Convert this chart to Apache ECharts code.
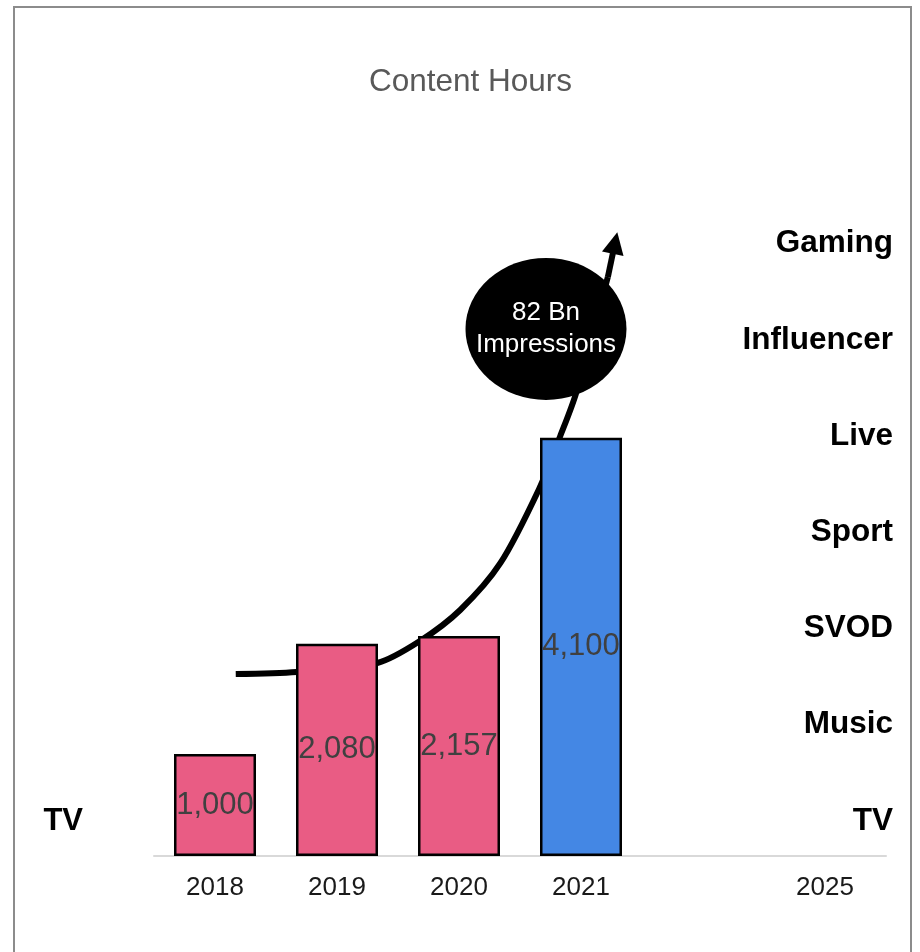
<!DOCTYPE html>
<html>
<head>
<meta charset="utf-8">
<title>Content Hours</title>
<script src="https://cdn.jsdelivr.net/npm/echarts@6/dist/echarts.min.js"></script>
<style>
  html, body { margin: 0; padding: 0; background: #ffffff; }
  #chart { width: 920px; height: 952px; }
</style>
</head>
<body>
<div id="chart"></div>
<script>
// Years on the horizontal axis (the blank slot keeps the gap before 2025)
const categories = ['2018', '2019', '2020', '2021', '', '2025'];
// Content hours per year
const contentHours = [1000, 2080, 2157, 4100, null, null];
// Content channels listed up the side
const channelLabels = ['TV', 'Music', 'SVOD', 'Sport', 'Live', 'Influencer', 'Gaming'];
const leftLabels = ['TV', '', '', '', '', '', ''];
// Growth curve, in [year slot, hours] units
const growthCurve = [
  [0.67, 1784], [1.17, 1804], [1.83, 1892], [2.18, 2108], [2.51, 2412],
  [2.84, 2873], [3.16, 3608], [3.33, 4118], [3.46, 4539], [3.72, 5676]
];
const growthArrowHead = [3.779, 6010];
// Impressions bubble
const impressions = { value: [3.213, 5167], text: '82 Bn\nImpressions' };

const PINK = '#E95C84';
const BLUE = '#4487E4';
const FONT = "'Liberation Sans', Arial, sans-serif";

const chart = echarts.init(document.getElementById('chart'), null, { renderer: 'canvas' });

const barData = contentHours.map((v, i) => v == null ? null : {
  value: v,
  itemStyle: { color: i === 3 ? BLUE : PINK }
});

chart.setOption({
  backgroundColor: '#ffffff',
  animation: false,
  title: {
    text: 'Content Hours',
    left: 364,
    top: 61,
    textStyle: { fontFamily: FONT, fontSize: 31.5, fontWeight: 'normal', color: '#595959' }
  },
  graphic: [{
    type: 'rect',
    silent: true,
    shape: { x: 14, y: 7, width: 897, height: 980 },
    style: { fill: 'none', stroke: '#8c8c8c', lineWidth: 2 }
  }],
  grid: [
    { left: 154, right: 34, top: 193, bottom: 96 },
    { left: 100, right: 40, top: 195.7, bottom: 82.9 }
  ],
  xAxis: [
    {
      type: 'category', gridIndex: 0, data: categories,
      axisLine: { lineStyle: { color: '#d9d9d9', width: 2 } },
      axisTick: { show: false },
      axisLabel: { interval: 0, margin: 19, fontFamily: FONT, fontSize: 26, color: '#1a1a1a' }
    },
    { type: 'value', gridIndex: 0, min: 0, max: 6, show: false },
    { type: 'value', gridIndex: 1, show: false }
  ],
  yAxis: [
    { type: 'value', gridIndex: 0, min: 0, max: 6500, show: false },
    {
      type: 'category', gridIndex: 1, position: 'left', data: leftLabels,
      axisLine: { show: false }, axisTick: { show: false }, splitLine: { show: false },
      axisLabel: { interval: 0, margin: 17, padding: [6, 0, 0, 0], fontFamily: FONT, fontSize: 31, fontWeight: 'bold', color: '#000' }
    },
    {
      type: 'category', gridIndex: 1, position: 'right', data: channelLabels,
      axisLine: { show: false }, axisTick: { show: false }, splitLine: { show: false },
      axisLabel: { interval: 0, margin: 13, align: 'right', fontFamily: FONT, fontSize: 31.5, fontWeight: 'bold', color: '#000' }
    }
  ],
  series: [
    {
      type: 'line',
      name: 'growth',
      xAxisIndex: 1, yAxisIndex: 0,
      data: growthCurve,
      smooth: 0.3,
      clip: false,
      symbol: 'none',
      silent: true,
      z: 1,
      lineStyle: { color: '#000', width: 6, cap: 'butt' },
      markLine: {
        silent: true,
        symbol: ['none', 'triangle'],
        symbolSize: [22, 22],
        label: { show: false },
        emphasis: { disabled: true },
        lineStyle: { color: '#000', width: 6, type: 'solid' },
        data: [[{ coord: growthCurve[growthCurve.length - 1] }, { coord: growthArrowHead }]]
      }
    },
    {
      type: 'bar',
      name: 'Content Hours',
      xAxisIndex: 0, yAxisIndex: 0,
      data: barData,
      barWidth: 82,
      z: 3,
      itemStyle: { borderColor: '#000', borderWidth: 2.5 },
      label: {
        show: true,
        position: 'inside',
        fontFamily: FONT,
        fontSize: 31,
        color: '#404040',
        formatter: p => p.value.toLocaleString('en-US')
      }
    },
    {
      type: 'scatter',
      name: 'impressions',
      xAxisIndex: 1, yAxisIndex: 0,
      data: [impressions.value],
      symbol: 'circle',
      symbolSize: [161, 142],
      clip: false,
      silent: true,
      z: 5,
      itemStyle: { color: '#000', opacity: 1 },
      label: {
        show: true,
        position: 'inside',
        formatter: impressions.text,
        fontFamily: FONT,
        fontSize: 26,
        lineHeight: 32,
        color: '#ffffff'
      }
    }
  ]
});
</script>
</body>
</html>
